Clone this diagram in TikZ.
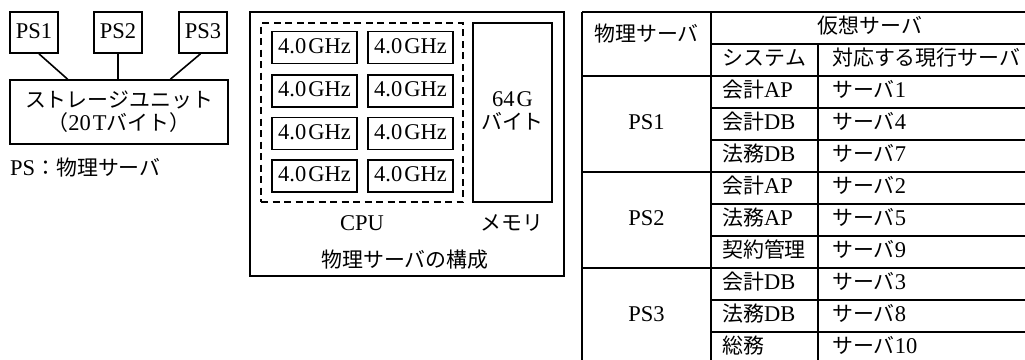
\documentclass[tikz,border=0pt]{standalone}
\usepackage{fontspec}
\setmainfont{Liberation Serif}
\newfontfamily\cjk{Noto Sans CJK JP}[Scale=0.93]
\usetikzlibrary{calc}
\begin{document}
\begin{tikzpicture}[x=1pt,y=-1pt,
  every node/.style={font=\fontsize{22.5}{25}\selectfont, inner sep=0pt, text height=15pt, text depth=4pt},
  box/.style={draw, line width=1.6pt},
  conn/.style={line width=1.6pt},
  rule/.style={line width=1.7pt},
  cell/.style={anchor=west}
]
\useasboundingbox (0,0) rectangle (1025,359);
\clip (0,0) rectangle (1025,359);

% ---------- left: physical servers and storage ----------
\node[box, minimum width=48pt, minimum height=41pt] (ps1) at (34,32.5) {PS1};
\node[box, minimum width=48pt, minimum height=41pt] (ps2) at (118,32.5) {PS2};
\node[box, minimum width=48pt, minimum height=41pt] (ps3) at (203,32.5) {PS3};
\node[box, minimum width=218pt, minimum height=64pt, align=center, text height=, text depth=] (st) at (119,112)
  {{\cjk ストレージユニット}\\[-2pt]{\cjk （}20\hspace{2pt}T{\cjk バイト）}};
\draw[conn] ($(ps1.south west)!0.6!(ps1.south east)$) -- ($(st.north west)!0.266!(st.north east)$);
\draw[conn] (ps2.south) -- (ps2.south |- st.north);
\draw[conn] ($(ps3.south west)!0.45!(ps3.south east)$) -- ($(st.north west)!0.734!(st.north east)$);
\node[anchor=west] (legend) at (10,170) {PS{\cjk ：物理サーバ}};

% ---------- middle: configuration of a physical server ----------
\node[box, minimum width=314pt, minimum height=264pt] (srv) at (407,144) {};
\node[draw, dashed, dash pattern=on 7pt off 4.5pt, line width=1.6pt, minimum width=202pt, minimum height=179pt] (cpu) at (362,112.5) {};
\foreach \r/\yy in {1/47.5,2/91,3/133.5,4/176}{
  \node[box, minimum width=85pt, minimum height=32pt] (g\r a) at (314.5,\yy) {4.0\hspace{2pt}GHz};
  \node[box, minimum width=85pt, minimum height=32pt] (g\r b) at (410.5,\yy) {4.0\hspace{2pt}GHz};
}
\node[box, minimum width=79pt, minimum height=179pt] (mem) at (512.5,112.5) {};
\node (memt1) at (512.5,101) {64\hspace{2pt}G};
\node (memt2) at (512.5,124) {\cjk バイト};
\node (cpul) at (362,225) {CPU};
\node (meml) at (512,225) {\cjk メモリ};
\node (srvl) at (405,262) {\cjk 物理サーバの構成};

% ---------- right: table ----------
\draw[rule] (582,12) -- (1030,12);
\draw[rule] (582,12) -- (582,364);
\draw[rule] (711,12) -- (711,364);
\draw[rule] (818,44) -- (818,364);
\draw[rule] (1030,12) -- (1030,364);
\draw[rule] (711,44) -- (1030,44);
\foreach \yy in {76,172,268,364} \draw[rule] (582,\yy) -- (1030,\yy);
\foreach \yy in {108,140,204,236,300,332} \draw[rule] (711,\yy) -- (1030,\yy);

\node (h1) at (646.5,36) {\cjk 物理サーバ};
\node (h2) at (870,28) {\cjk 仮想サーバ};
\node (h3) at (764.5,60) {\cjk システム};
\node[cell] (h4) at (832,60) {\cjk 対応する現行サーバ};

\node (p1) at (646.5,124) {PS1};
\node (p2) at (646.5,220) {PS2};
\node (p3) at (646.5,316) {PS3};

\node[cell] (s1) at (722,92)  {{\cjk 会計}AP};
\node[cell] (s2) at (722,124) {{\cjk 会計}DB};
\node[cell] (s3) at (722,156) {{\cjk 法務}DB};
\node[cell] (s4) at (722,188) {{\cjk 会計}AP};
\node[cell] (s5) at (722,220) {{\cjk 法務}AP};
\node[cell] (s6) at (722,252) {\cjk 契約管理};
\node[cell] (s7) at (722,284) {{\cjk 会計}DB};
\node[cell] (s8) at (722,316) {{\cjk 法務}DB};
\node[cell] (s9) at (722,348) {\cjk 総務};

\node[cell] (v1) at (832,92)  {{\cjk サーバ}1};
\node[cell] (v2) at (832,124) {{\cjk サーバ}4};
\node[cell] (v3) at (832,156) {{\cjk サーバ}7};
\node[cell] (v4) at (832,188) {{\cjk サーバ}2};
\node[cell] (v5) at (832,220) {{\cjk サーバ}5};
\node[cell] (v6) at (832,252) {{\cjk サーバ}9};
\node[cell] (v7) at (832,284) {{\cjk サーバ}3};
\node[cell] (v8) at (832,316) {{\cjk サーバ}8};
\node[cell] (v9) at (832,348) {{\cjk サーバ}10};
\end{tikzpicture}
\end{document}
